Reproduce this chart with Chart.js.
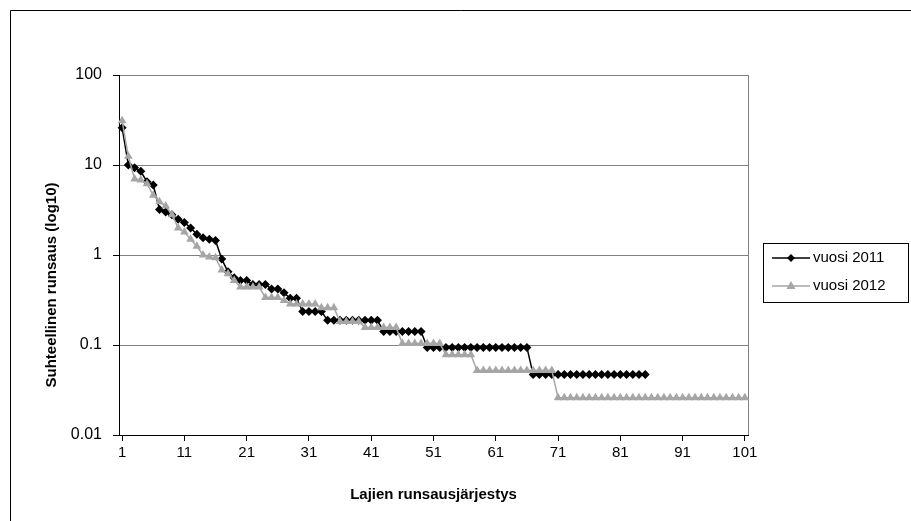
<!DOCTYPE html>
<html>
<head>
<meta charset="utf-8">
<script src="https://cdn.jsdelivr.net/npm/chart.js"></script>
<style>
  body { margin: 0; background: #fff; }
  canvas { display: block; }
</style>
</head>
<body>
<canvas id="rankChart" width="911" height="521"></canvas>
<script>
// ranks 1..101
const ranks = []
for (let i = 1; i <= 101; i++) ranks.push(String(i))

const yTicks = [0.01, 0.1, 1, 10, 100]
const yTitle = "Suhteellinen runsaus (log10)"

// vuosi 2011, 85 lajia
const abund2011 = [
    26, 10, 9.3, 8.5, 6.5, 6.0, 3.2, 3.0, 2.8, 2.5,
    2.3, 2.0, 1.7, 1.55, 1.5, 1.45, 0.9, 0.65, 0.56, 0.52,
    0.52, 0.47, 0.47, 0.47, 0.42, 0.42, 0.38, 0.33, 0.33, 0.235,
    0.235, 0.235, 0.235, 0.188, 0.188, 0.188, 0.188, 0.188, 0.188, 0.188,
    0.188, 0.188, 0.141, 0.141, 0.141, 0.141, 0.141, 0.141, 0.141, 0.094,
    0.094, 0.094, 0.094, 0.094, 0.094, 0.094, 0.094, 0.094, 0.094, 0.094,
    0.094, 0.094, 0.094, 0.094, 0.094, 0.094, 0.047, 0.047, 0.047, 0.047,
    0.047, 0.047, 0.047, 0.047, 0.047, 0.047, 0.047, 0.047, 0.047, 0.047,
    0.047, 0.047, 0.047, 0.047, 0.047
]

// vuosi 2012, 101 lajia
const abund2012 = [
    31, 12.5, 7.0, 6.8, 6.2, 4.6, 3.9, 3.5, 2.8, 2.0,
    1.8, 1.5, 1.25, 1.0, 0.95, 0.93, 0.68, 0.62, 0.52, 0.44,
    0.44, 0.44, 0.44, 0.338, 0.338, 0.338, 0.312, 0.286, 0.286, 0.286,
    0.286, 0.286, 0.26, 0.26, 0.26, 0.182, 0.182, 0.182, 0.182, 0.156,
    0.156, 0.156, 0.156, 0.156, 0.156, 0.104, 0.104, 0.104, 0.104, 0.104,
    0.104, 0.104, 0.078, 0.078, 0.078, 0.078, 0.078, 0.052, 0.052, 0.052,
    0.052, 0.052, 0.052, 0.052, 0.052, 0.052, 0.052, 0.052, 0.052, 0.052,
    0.026, 0.026, 0.026, 0.026, 0.026, 0.026, 0.026, 0.026, 0.026, 0.026,
    0.026, 0.026, 0.026, 0.026, 0.026, 0.026, 0.026, 0.026, 0.026, 0.026,
    0.026, 0.026, 0.026, 0.026, 0.026, 0.026, 0.026, 0.026, 0.026, 0.026,
    0.026
]

const black = "#000000"
const gray = "#a6a6a6"
const fontFamily = "'Liberation Sans', Arial, sans-serif"

// outer frame, right border of plot, y title and the legend box
const framePlugin = {
    id: "frame",
    beforeDatasetsDraw(chart) {
        const ctx = chart.ctx
        const a = chart.chartArea
        ctx.save()
        ctx.strokeStyle = "#808080"
        ctx.lineWidth = 1
        ctx.beginPath()
        ctx.moveTo(Math.round(a.right) + 0.5, a.top)
        ctx.lineTo(Math.round(a.right) + 0.5, a.bottom)
        ctx.stroke()
        ctx.restore()
    },
    afterDraw(chart) {
        const ctx = chart.ctx
        ctx.save()
        ctx.strokeStyle = black
        ctx.lineWidth = 1
        ctx.beginPath()
        ctx.moveTo(10.5, 521)
        ctx.lineTo(10.5, 10.5)
        ctx.lineTo(911, 10.5)
        ctx.stroke()

        // y title
        ctx.save()
        ctx.translate(52, 285)
        ctx.rotate(-Math.PI / 2)
        ctx.font = "bold 15px " + fontFamily
        ctx.fillStyle = black
        ctx.textAlign = "center"
        ctx.textBaseline = "middle"
        ctx.fillText(yTitle, 0, 0)
        ctx.restore()

        // legend
        ctx.strokeRect(763.5, 243.5, 145, 59)
        ctx.font = "15px " + fontFamily
        ctx.textBaseline = "middle"
        chart.data.datasets.forEach((ds, i) => {
            const y = 258 + i * 28
            ctx.strokeStyle = ds.borderColor
            ctx.fillStyle = ds.borderColor
            ctx.lineWidth = 1.5
            ctx.beginPath()
            ctx.moveTo(772, y)
            ctx.lineTo(810, y)
            ctx.stroke()
            ctx.beginPath()
            if (ds.pointStyle === "rectRot") {
                ctx.moveTo(791, y - 4)
                ctx.lineTo(795, y)
                ctx.lineTo(791, y + 4)
                ctx.lineTo(787, y)
            } else {
                ctx.moveTo(791, y - 5)
                ctx.lineTo(795.5, y + 3)
                ctx.lineTo(786.5, y + 3)
            }
            ctx.closePath()
            ctx.fill()
            ctx.fillStyle = black
            ctx.fillText(ds.label, 813, y)
        })
        ctx.restore()
    }
}

const rankChart = new Chart(
    document.getElementById("rankChart"),
    {
        type: "line",
        data: {
            labels: ranks,
            datasets: [{
                label: "vuosi 2011",
                data: abund2011,
                borderColor: black,
                backgroundColor: black,
                borderWidth: 1.5,
                pointStyle: "rectRot",
                pointRadius: 4.5,
                pointBorderWidth: 0,
                tension: 0,
                order: 2
            }, {
                label: "vuosi 2012",
                data: abund2012,
                borderColor: gray,
                backgroundColor: gray,
                borderWidth: 1.5,
                pointStyle: "triangle",
                pointRadius: 5,
                pointBorderWidth: 0,
                tension: 0,
                order: 1
            }]
        },
        options: {
            responsive: false,
            animation: false,
            layout: {
                padding: { left: 10, top: 75, right: 163, bottom: 0 }
            },
            plugins: {
                legend: { display: false },
                tooltip: { enabled: false }
            },
            scales: {
                x: {
                    type: "category",
                    offset: true,
                    grid: {
                        drawOnChartArea: false,
                        offset: false,
                        tickLength: 6,
                        tickColor: black
                    },
                    border: { color: black, width: 1 },
                    ticks: {
                        autoSkip: false,
                        maxRotation: 0,
                        padding: 3,
                        color: black,
                        font: { family: fontFamily, size: 15 },
                        callback: function (val, idx) {
                            return idx % 10 === 0 ? this.getLabelForValue(val) : null
                        }
                    },
                    title: {
                        display: true,
                        text: "Lajien runsausjärjestys",
                        color: black,
                        font: { family: fontFamily, size: 15, weight: "bold" },
                        padding: { top: 0, bottom: 17 }
                    },
                    afterFit(scale) { scale.height = 86 }
                },
                y: {
                    type: "logarithmic",
                    min: 0.01,
                    max: 100,
                    grid: {
                        color: "#808080",
                        tickLength: 6,
                        tickColor: black
                    },
                    border: { color: black, width: 1 },
                    ticks: {
                        padding: 11,
                        color: black,
                        font: { family: fontFamily, size: 16 },
                        callback: value => String(value)
                    },
                    afterBuildTicks(scale) {
                        scale.ticks = yTicks.map(v => ({ value: v }))
                    },
                    afterFit(scale) { scale.width = 109 }
                }
            }
        },
        plugins: [framePlugin]
    }
)
</script>
</body>
</html>
